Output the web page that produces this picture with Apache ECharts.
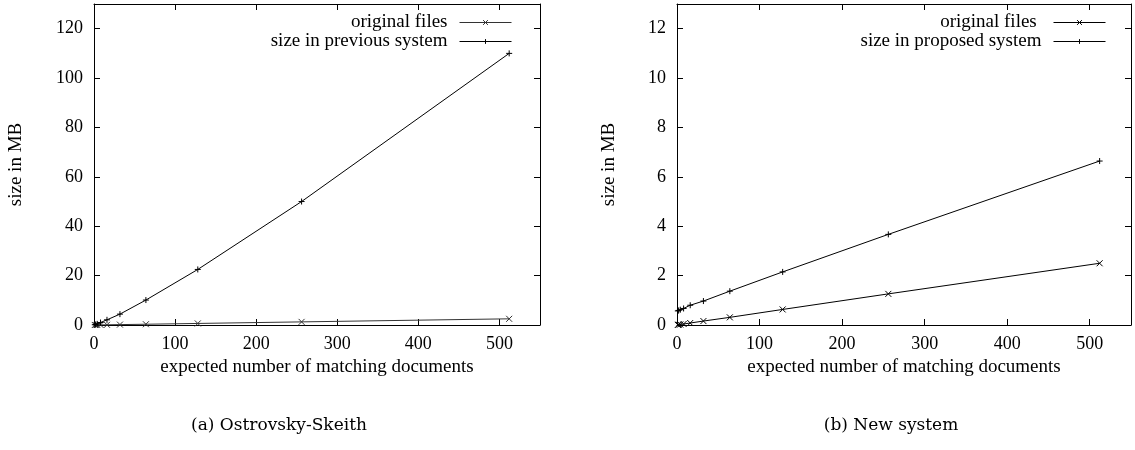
<!DOCTYPE html>
<html>
<head>
<meta charset="utf-8">
<script src="https://cdn.jsdelivr.net/npm/echarts@6/dist/echarts.min.js"></script>
<style>
  html, body { margin: 0; padding: 0; background: #fff; }
  #chart { width: 1135px; height: 450px; }
</style>
</head>
<body>
<div id="chart"></div>
<script>
// expected number of matching documents
var docs = [1, 2, 4, 8, 16, 32, 64, 128, 256, 512]
// sizes in MB
var original_files = [0.005, 0.01, 0.02, 0.04, 0.08, 0.16, 0.31, 0.63, 1.26, 2.5]
var previous_system = [0.1, 0.2, 0.45, 1.0, 2.1, 4.4, 10.1, 22.5, 50, 110]
var proposed_system = [0.57, 0.59, 0.62, 0.67, 0.8, 0.97, 1.37, 2.15, 3.67, 6.64]

var x_ticks = [0, 100, 200, 300, 400, 500]
var y_ticks_a = [0, 20, 40, 60, 80, 100, 120]
var y_ticks_b = [0, 2, 4, 6, 8, 10, 12]

var font = 'Liberation Serif'
var cross = 'path://M0,0L10,10M10,0L0,10'
var plus = 'path://M5,0L5,10M0,5L10,5'

function pairs(xs, ys) {
  var out = []
  for (var i = 0; i < xs.length; i++) {
    out.push([xs[i], ys[i]])
  }
  return out
}

function bottom_axis(grid) {
  return {
    type: 'value', gridIndex: grid, min: 0, max: 550,
    name: 'expected number of matching documents',
    nameLocation: 'middle', nameGap: 32,
    nameTextStyle: { fontFamily: font, fontSize: 19, color: '#000' },
    axisLine: { show: true, onZero: false, lineStyle: { color: '#000', width: 1 } },
    axisTick: { show: true, inside: true, length: 6, customValues: x_ticks, lineStyle: { color: '#000' } },
    axisLabel: { customValues: x_ticks, margin: 10, fontFamily: font, fontSize: 18, color: '#000' },
    splitLine: { show: false }
  }
}

function top_axis(grid) {
  return {
    type: 'value', gridIndex: grid, min: 0, max: 550, position: 'top',
    axisLine: { show: true, onZero: false, lineStyle: { color: '#000', width: 1 } },
    axisTick: { show: true, inside: true, length: 6, customValues: x_ticks, lineStyle: { color: '#000' } },
    axisLabel: { show: false },
    splitLine: { show: false }
  }
}

function left_axis(grid, max, ticks, gap) {
  return {
    type: 'value', gridIndex: grid, min: 0, max: max,
    name: 'size in MB', nameLocation: 'middle', nameGap: gap, nameRotate: 90,
    nameTextStyle: { fontFamily: font, fontSize: 19, color: '#000' },
    axisLine: { show: true, onZero: false, lineStyle: { color: '#000', width: 1 } },
    axisTick: { show: true, inside: true, length: 6, customValues: ticks, lineStyle: { color: '#000' } },
    axisLabel: { customValues: ticks, margin: 11, fontFamily: font, fontSize: 18, color: '#000' },
    splitLine: { show: false }
  }
}

function right_axis(grid, max, ticks) {
  return {
    type: 'value', gridIndex: grid, min: 0, max: max, position: 'right',
    axisLine: { show: true, onZero: false, lineStyle: { color: '#000', width: 1 } },
    axisTick: { show: true, inside: true, length: 6, customValues: ticks, lineStyle: { color: '#000' } },
    axisLabel: { show: false },
    splitLine: { show: false }
  }
}

function line(name, xi, yi, data, symbol, color) {
  return {
    name: name, type: 'line', xAxisIndex: xi, yAxisIndex: yi,
    data: data, symbol: symbol, symbolSize: 6, showSymbol: true,
    lineStyle: { color: color, width: 1 },
    itemStyle: { color: color, borderColor: color, borderWidth: 1 },
    animation: false
  }
}

function legend(names, right) {
  return {
    data: names, orient: 'vertical', align: 'right',
    right: right, top: 8, itemWidth: 52, itemHeight: 6, itemGap: 0,
    lineStyle: { width: 1 },
    itemStyle: { borderWidth: 1 },
    textStyle: { fontFamily: font, fontSize: 19, color: '#000', padding: [0, 7, 0, 0] }
  }
}

var chart = echarts.init(document.getElementById('chart'))
chart.setOption({
  backgroundColor: '#fff',
  animation: false,
  title: [
    { text: '(a) Ostrovsky-Skeith', left: 274, top: 412, textAlign: 'center',
      textStyle: { fontFamily: 'DejaVu Serif', fontSize: 17, fontWeight: 'normal', color: '#000' } },
    { text: '(b) New system', left: 886, top: 412, textAlign: 'center',
      textStyle: { fontFamily: 'DejaVu Serif', fontSize: 17, fontWeight: 'normal', color: '#000' } }
  ],
  legend: [
    legend(['original files', 'size in previous system'], 1135 - 517),
    legend(['original files ', 'size in proposed system'], 1135 - 1111)
  ],
  grid: [
    { left: 94, top: 4, width: 446, height: 321 },
    { left: 677, top: 4, width: 454, height: 321 }
  ],
  xAxis: [bottom_axis(0), top_axis(0), bottom_axis(1), top_axis(1)],
  yAxis: [left_axis(0, 130, y_ticks_a, 68), right_axis(0, 130, y_ticks_a),
          left_axis(1, 13, y_ticks_b, 58), right_axis(1, 13, y_ticks_b)],
  series: [
    line('original files', 0, 0, pairs(docs, original_files), cross, '#333'),
    line('size in previous system', 0, 0, pairs(docs, previous_system), plus, '#000'),
    line('original files ', 2, 2, pairs(docs, original_files), cross, '#000'),
    line('size in proposed system', 2, 2, pairs(docs, proposed_system), plus, '#000')
  ]
})
</script>
</body>
</html>
